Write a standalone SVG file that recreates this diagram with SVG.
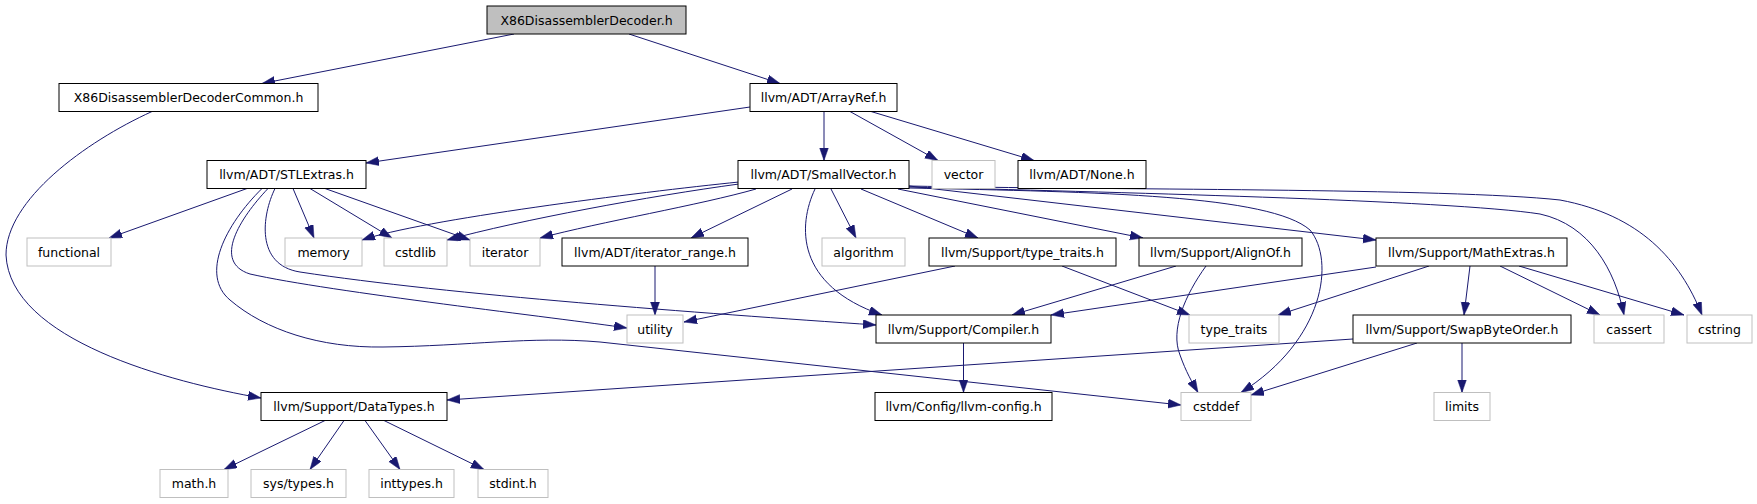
<svg xmlns="http://www.w3.org/2000/svg" width="1757" height="504" viewBox="0 0 1757 504">
<style>
.n rect{fill:#ffffff;stroke:#000000;stroke-width:1}
.x rect{fill:#ffffff;stroke:#bfbfbf;stroke-width:1}
#root rect{fill:#bfbfbf}
text{font-family:"DejaVu Sans","Liberation Sans",sans-serif;font-size:12.5px;text-anchor:middle;fill:#000000}
.e path{fill:none;stroke:#191970;stroke-width:1;marker-end:url(#a)}
</style>
<defs>
<marker id="a" markerUnits="userSpaceOnUse" markerWidth="14" markerHeight="10" refX="13" refY="4.5" orient="auto">
<path d="M0,0 L13,4.5 L0,9 z" fill="#191970" stroke="#191970" stroke-width="0.5"/>
</marker>
</defs>
<rect width="1757" height="504" fill="#ffffff"/>
<g class="e">
<path d="M514,34 L262,83.5"/>
<path d="M629,34 L780,83.5"/>
<path d="M152,111.5 C85,142 6,200 6,255 C10,340 170,382 261,398"/>
<path d="M750,107 L366,163"/>
<path d="M824,111.5 L824,160.5"/>
<path d="M850,111.5 L938,160.5"/>
<path d="M871,111.5 L1034,160.5"/>
<path d="M247,188.5 L109,238"/>
<path d="M293,188.5 L314,238"/>
<path d="M310,188.5 L392,238"/>
<path d="M325,188.5 L470,240"/>
<path d="M268,188.5 C240,218 212,262 250,274 C330,292 560,318 627,328"/>
<path d="M275,188.5 C262,215 255,265 300,272 C450,295 700,313 876,325"/>
<path d="M262,188.5 C225,225 200,275 230,300 C265,330 320,348 383,347 C470,346 530,336 600,342 L1181,405"/>
<path d="M739,182 C640,192 420,220 362,240"/>
<path d="M739,184 C650,196 520,220 447,240"/>
<path d="M756,189 C700,205 600,222 540,238"/>
<path d="M792,189 L691,238"/>
<path d="M815,189 C798,225 795,285 882,315"/>
<path d="M831,189 L856,238"/>
<path d="M861,189 L978,238"/>
<path d="M898,189 L1143,238"/>
<path d="M909,186 L1376,240"/>
<path d="M909,188 C1100,192 1270,195 1310,230 C1335,260 1325,340 1241,392.5"/>
<path d="M909,187 C1100,192 1450,200 1540,214 C1590,225 1615,270 1624,315"/>
<path d="M909,186 C1100,190 1450,188 1560,200 C1640,215 1680,260 1702,315"/>
<path d="M655,266 L655,315"/>
<path d="M955,266 L684,322"/>
<path d="M1062,266 L1190,315"/>
<path d="M1176,266 L1012,315"/>
<path d="M1206,266 C1185,295 1170,330 1180,355 C1186,372 1192,382 1198,392.5"/>
<path d="M1376,267 L1051,315"/>
<path d="M1429,266 L1278,315"/>
<path d="M1470,266 L1464,315"/>
<path d="M1500,266 L1600,315"/>
<path d="M1519,266 L1684,315"/>
<path d="M1353,339 L447,400"/>
<path d="M1417,343 L1251,395"/>
<path d="M1462,343 L1462,392.5"/>
<path d="M963.5,343 L963.5,392.5"/>
<path d="M325,420.5 L224,469.5"/>
<path d="M344,420.5 L310,469.5"/>
<path d="M365,420.5 L400,469.5"/>
<path d="M384,420.5 L484,469.5"/>
</g>
<g id="root" class="n"><rect x="487" y="6" width="199" height="28"/><text x="586.5" y="24.5">X86DisassemblerDecoder.h</text></g>
<g id="common" class="n"><rect x="59" y="83.5" width="259" height="28"/><text x="188.5" y="102">X86DisassemblerDecoderCommon.h</text></g>
<g id="arrayref" class="n"><rect x="750" y="83.5" width="147" height="28"/><text x="823.5" y="102">llvm/ADT/ArrayRef.h</text></g>
<g id="stlextras" class="n"><rect x="207" y="160.5" width="159" height="28"/><text x="286.5" y="179">llvm/ADT/STLExtras.h</text></g>
<g id="smallvector" class="n"><rect x="738" y="160.5" width="171" height="28"/><text x="823.5" y="179">llvm/ADT/SmallVector.h</text></g>
<g id="vector" class="x"><rect x="932" y="160.5" width="63" height="28"/><text x="963.5" y="179">vector</text></g>
<g id="none" class="n"><rect x="1018" y="160.5" width="128" height="28"/><text x="1082" y="179">llvm/ADT/None.h</text></g>
<g id="functional" class="x"><rect x="27" y="238" width="84" height="28"/><text x="69" y="256.5">functional</text></g>
<g id="memory" class="x"><rect x="285" y="238" width="77" height="28"/><text x="323.5" y="256.5">memory</text></g>
<g id="cstdlib" class="x"><rect x="384" y="238" width="63" height="28"/><text x="415.5" y="256.5">cstdlib</text></g>
<g id="iterator" class="x"><rect x="470" y="238" width="70" height="28"/><text x="505" y="256.5">iterator</text></g>
<g id="iterator_range" class="n"><rect x="562" y="238" width="186" height="28"/><text x="655" y="256.5">llvm/ADT/iterator_range.h</text></g>
<g id="algorithm" class="x"><rect x="822" y="238" width="83" height="28"/><text x="863.5" y="256.5">algorithm</text></g>
<g id="type_traits_h" class="n"><rect x="929" y="238" width="187" height="28"/><text x="1022.5" y="256.5">llvm/Support/type_traits.h</text></g>
<g id="alignof" class="n"><rect x="1139" y="238" width="163" height="28"/><text x="1220.5" y="256.5">llvm/Support/AlignOf.h</text></g>
<g id="mathextras" class="n"><rect x="1376" y="238" width="191" height="28"/><text x="1471.5" y="256.5">llvm/Support/MathExtras.h</text></g>
<g id="utility" class="x"><rect x="627" y="315" width="56" height="28"/><text x="655" y="333.5">utility</text></g>
<g id="compiler" class="n"><rect x="876" y="315" width="175" height="28"/><text x="963.5" y="333.5">llvm/Support/Compiler.h</text></g>
<g id="type_traits" class="x"><rect x="1189" y="315" width="90" height="28"/><text x="1234" y="333.5">type_traits</text></g>
<g id="swapbyteorder" class="n"><rect x="1353" y="315" width="218" height="28"/><text x="1462" y="333.5">llvm/Support/SwapByteOrder.h</text></g>
<g id="cassert" class="x"><rect x="1594" y="315" width="70" height="28"/><text x="1629" y="333.5">cassert</text></g>
<g id="cstring" class="x"><rect x="1687" y="315" width="65" height="28"/><text x="1719.5" y="333.5">cstring</text></g>
<g id="datatypes" class="n"><rect x="261" y="392.5" width="186" height="28"/><text x="354" y="411">llvm/Support/DataTypes.h</text></g>
<g id="llvmconfig" class="n"><rect x="875" y="392.5" width="177" height="28"/><text x="963.5" y="411">llvm/Config/llvm-config.h</text></g>
<g id="cstddef" class="x"><rect x="1181" y="392.5" width="70" height="28"/><text x="1216" y="411">cstddef</text></g>
<g id="limits" class="x"><rect x="1434" y="392.5" width="56" height="28"/><text x="1462" y="411">limits</text></g>
<g id="math_h" class="x"><rect x="160" y="469.5" width="68" height="28"/><text x="194" y="488">math.h</text></g>
<g id="sys_types" class="x"><rect x="251" y="469.5" width="95" height="28"/><text x="298.5" y="488">sys/types.h</text></g>
<g id="inttypes" class="x"><rect x="369" y="469.5" width="85" height="28"/><text x="411.5" y="488">inttypes.h</text></g>
<g id="stdint" class="x"><rect x="478" y="469.5" width="70" height="28"/><text x="513" y="488">stdint.h</text></g>
</svg>
